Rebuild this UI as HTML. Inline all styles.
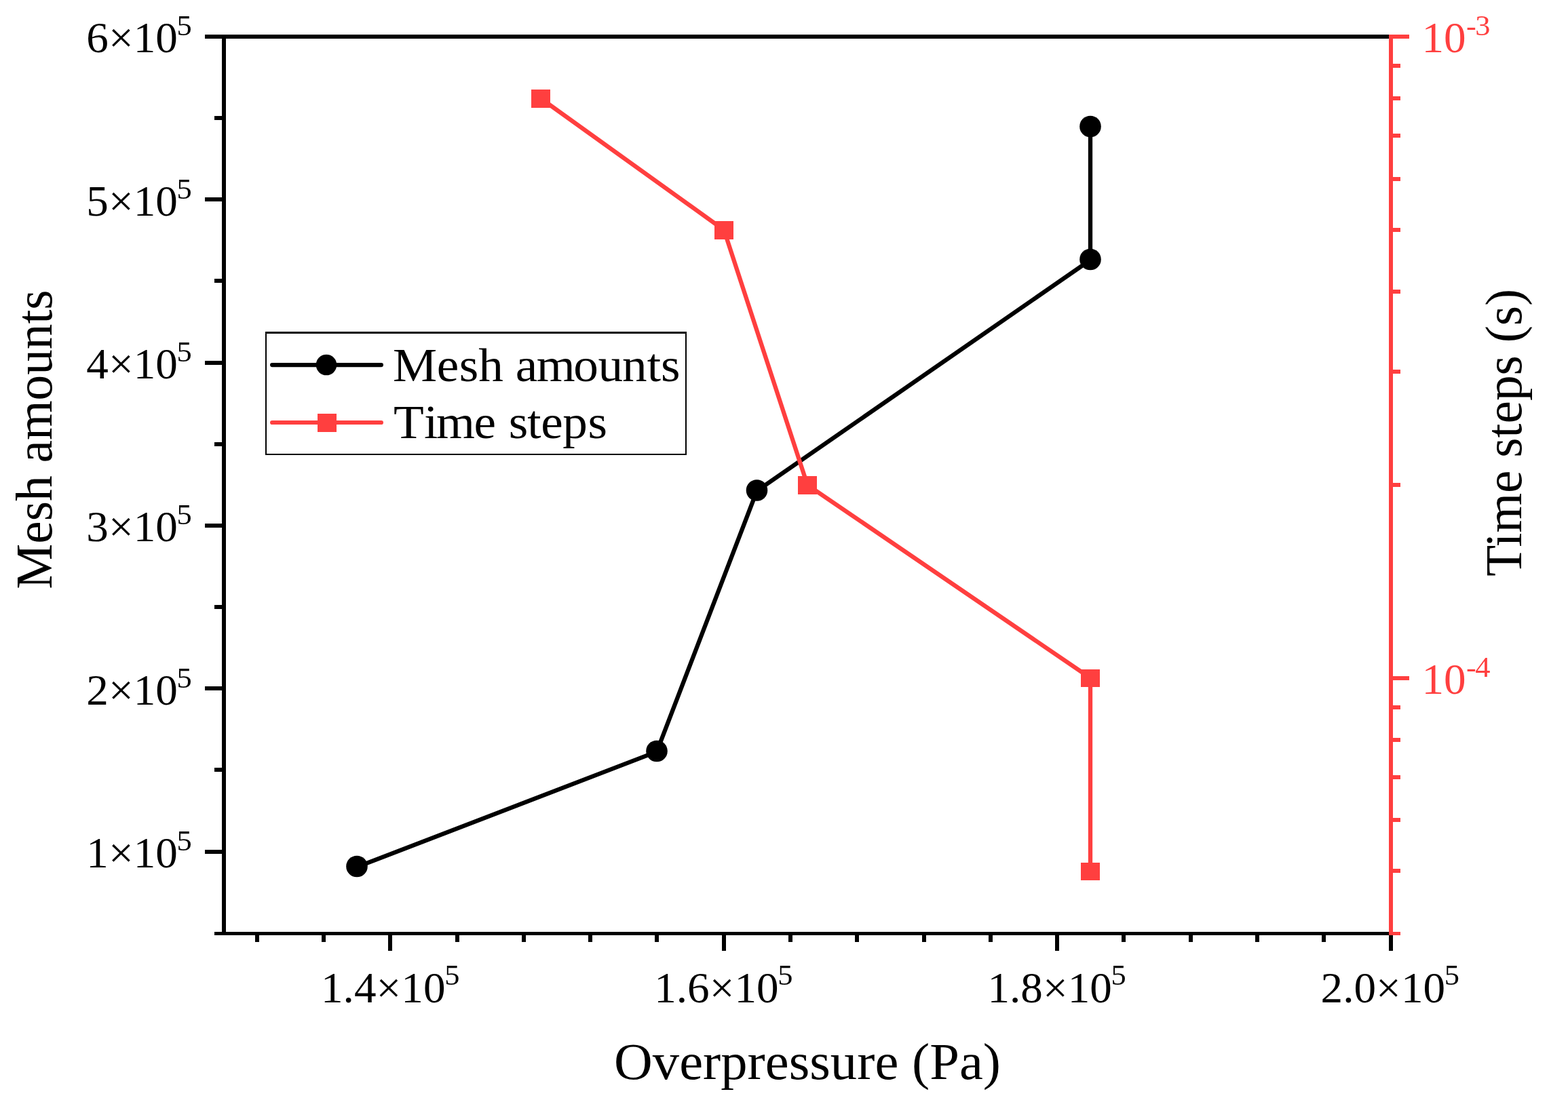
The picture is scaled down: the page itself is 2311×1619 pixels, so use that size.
<!DOCTYPE html>
<html lang="en">
<head>
<meta charset="utf-8">
<title>Mesh amounts and time steps vs overpressure</title>
<style>
html,body{margin:0;padding:0;background:#fff;}
body{width:2311px;height:1619px;overflow:hidden;font-family:"Liberation Serif",serif;}
svg{display:block;}
</style>
</head>
<body>
<svg width="2311" height="1619" viewBox="0 0 2311 1619" font-family="'Liberation Serif', serif">
<rect x="0" y="0" width="2311" height="1619" fill="#fff"/>
<g id="series-mesh">
<polyline points="526,1278.4 968,1108.4 1115.5,723.9 1607,383.4 1607,187.4" fill="none" stroke="#000" stroke-width="6.3" stroke-linejoin="round"/>
<rect x="1604" y="186" width="6" height="197" fill="#000" shape-rendering="crispEdges"/>
<circle cx="526" cy="1277.5" r="15.8" fill="#000"/>
<circle cx="968" cy="1107.5" r="15.8" fill="#000"/>
<circle cx="1115.5" cy="723" r="15.8" fill="#000"/>
<circle cx="1607" cy="382.5" r="15.8" fill="#000"/>
<circle cx="1607" cy="186.5" r="15.8" fill="#000"/>
</g>
<g id="series-time">
<polyline points="797,145.1 1067,339.1 1190,715.1 1607,999.6 1607,1284.6" fill="none" stroke="#FF3F3F" stroke-width="6.3" stroke-linejoin="round"/>
<g shape-rendering="crispEdges">
<rect x="1604" y="1000" width="6" height="285" fill="#FF3F3F"/>
<rect x="783" y="132" width="28" height="27" fill="#FF3F3F"/>
<rect x="1053" y="326" width="28" height="27" fill="#FF3F3F"/>
<rect x="1176" y="702" width="28" height="27" fill="#FF3F3F"/>
<rect x="1593" y="987" width="28" height="26" fill="#FF3F3F"/>
<rect x="1593" y="1272" width="28" height="26" fill="#FF3F3F"/>
</g></g>
<g id="axes" shape-rendering="crispEdges">
<rect x="302" y="51" width="1751" height="6" fill="#000"/>
<rect x="316" y="1374" width="1737" height="5" fill="#000"/>
<rect x="327" y="51" width="6" height="1328" fill="#000"/>
<rect x="302" y="1253" width="28" height="6" fill="#000"/>
<rect x="316" y="1132" width="14" height="6" fill="#000"/>
<rect x="302" y="1012" width="28" height="6" fill="#000"/>
<rect x="316" y="892" width="14" height="6" fill="#000"/>
<rect x="302" y="772" width="28" height="6" fill="#000"/>
<rect x="316" y="652" width="14" height="6" fill="#000"/>
<rect x="302" y="532" width="28" height="6" fill="#000"/>
<rect x="316" y="411" width="14" height="6" fill="#000"/>
<rect x="302" y="291" width="28" height="6" fill="#000"/>
<rect x="316" y="171" width="14" height="6" fill="#000"/>
<rect x="376" y="1376" width="6" height="13" fill="#000"/>
<rect x="474" y="1376" width="6" height="13" fill="#000"/>
<rect x="572" y="1376" width="6" height="13" fill="#000"/>
<rect x="671" y="1376" width="6" height="13" fill="#000"/>
<rect x="769" y="1376" width="6" height="13" fill="#000"/>
<rect x="867" y="1376" width="6" height="13" fill="#000"/>
<rect x="965" y="1376" width="6" height="13" fill="#000"/>
<rect x="1064" y="1376" width="6" height="13" fill="#000"/>
<rect x="1162" y="1376" width="6" height="13" fill="#000"/>
<rect x="1260" y="1376" width="6" height="13" fill="#000"/>
<rect x="1359" y="1376" width="6" height="13" fill="#000"/>
<rect x="1457" y="1376" width="6" height="13" fill="#000"/>
<rect x="1555" y="1376" width="6" height="13" fill="#000"/>
<rect x="1653" y="1376" width="6" height="13" fill="#000"/>
<rect x="1752" y="1376" width="6" height="13" fill="#000"/>
<rect x="1850" y="1376" width="6" height="13" fill="#000"/>
<rect x="1948" y="1376" width="6" height="13" fill="#000"/>
<rect x="2047" y="1376" width="6" height="13" fill="#000"/>
<rect x="572" y="1376" width="6" height="26" fill="#000"/>
<rect x="1064" y="1376" width="6" height="26" fill="#000"/>
<rect x="1555" y="1376" width="6" height="26" fill="#000"/>
<rect x="2047" y="1376" width="6" height="26" fill="#000"/>
<rect x="2047" y="51" width="6" height="1328" fill="#FF3F3F"/>
<rect x="2050" y="51" width="27" height="6" fill="#FF3F3F"/>
<rect x="2050" y="997" width="27" height="6" fill="#FF3F3F"/>
<rect x="2050" y="94" width="14" height="6" fill="#FF3F3F"/>
<rect x="2050" y="142" width="14" height="6" fill="#FF3F3F"/>
<rect x="2050" y="197" width="14" height="6" fill="#FF3F3F"/>
<rect x="2050" y="261" width="14" height="6" fill="#FF3F3F"/>
<rect x="2050" y="336" width="14" height="6" fill="#FF3F3F"/>
<rect x="2050" y="427" width="14" height="6" fill="#FF3F3F"/>
<rect x="2050" y="545" width="14" height="6" fill="#FF3F3F"/>
<rect x="2050" y="712" width="14" height="6" fill="#FF3F3F"/>
<rect x="2050" y="1040" width="14" height="6" fill="#FF3F3F"/>
<rect x="2050" y="1088" width="14" height="6" fill="#FF3F3F"/>
<rect x="2050" y="1143" width="14" height="6" fill="#FF3F3F"/>
<rect x="2050" y="1206" width="14" height="6" fill="#FF3F3F"/>
<rect x="2050" y="1281" width="14" height="6" fill="#FF3F3F"/>
<rect x="2050" y="1374" width="14" height="5" fill="#FF3F3F"/>
</g>
<g id="tick-labels">
<text transform="translate(282.8 1278.5) scale(1.035 1)" font-size="63.0" text-anchor="end" fill="#000">1×10<tspan font-size="43.0" dy="-25.0" dx="-1.3">5</tspan></text>
<text transform="translate(282.8 1038.5) scale(1.035 1)" font-size="63.0" text-anchor="end" fill="#000">2×10<tspan font-size="43.0" dy="-25.0" dx="-1.3">5</tspan></text>
<text transform="translate(282.8 797.5) scale(1.035 1)" font-size="63.0" text-anchor="end" fill="#000">3×10<tspan font-size="43.0" dy="-25.0" dx="-1.3">5</tspan></text>
<text transform="translate(282.8 557.5) scale(1.035 1)" font-size="63.0" text-anchor="end" fill="#000">4×10<tspan font-size="43.0" dy="-25.0" dx="-1.3">5</tspan></text>
<text transform="translate(282.8 317.5) scale(1.035 1)" font-size="63.0" text-anchor="end" fill="#000">5×10<tspan font-size="43.0" dy="-25.0" dx="-1.3">5</tspan></text>
<text transform="translate(282.8 76.5) scale(1.035 1)" font-size="63.0" text-anchor="end" fill="#000">6×10<tspan font-size="43.0" dy="-25.0" dx="-1.3">5</tspan></text>
<text transform="translate(575.2 1478) scale(1.035 1)" font-size="63.0" text-anchor="middle" fill="#000">1.4×10<tspan font-size="43.0" dy="-26.2" dx="-1.3">5</tspan></text>
<text transform="translate(1066.4 1478) scale(1.035 1)" font-size="63.0" text-anchor="middle" fill="#000">1.6×10<tspan font-size="43.0" dy="-26.2" dx="-1.3">5</tspan></text>
<text transform="translate(1557.6 1478) scale(1.035 1)" font-size="63.0" text-anchor="middle" fill="#000">1.8×10<tspan font-size="43.0" dy="-26.2" dx="-1.3">5</tspan></text>
<text transform="translate(2048.8 1478) scale(1.035 1)" font-size="63.0" text-anchor="middle" fill="#000">2.0×10<tspan font-size="43.0" dy="-26.2" dx="-1.3">5</tspan></text>
<text transform="translate(2095.5 76.5) scale(1.035 1)" font-size="63.0" text-anchor="start" fill="#FF3F3F">10<tspan font-size="43.0" dy="-25.0" dx="0.4 -1.7">-3</tspan></text>
<text transform="translate(2095.5 1022.5) scale(1.035 1)" font-size="63.0" text-anchor="start" fill="#FF3F3F">10<tspan font-size="43.0" dy="-25.0" dx="0.4 -1.7">-4</tspan></text>
</g>
<text transform="translate(1190 1591) scale(1.035 1)" font-size="76.0" text-anchor="middle">Overpressure (Pa)</text>
<text transform="translate(76.4 648) rotate(-90)" font-size="75.3" text-anchor="middle">Mesh amounts</text>
<text transform="translate(2241.6 637.8) rotate(-90)" font-size="75.3" text-anchor="middle">Time steps (s)</text>
<g id="legend">
<g shape-rendering="crispEdges">
<rect x="391" y="489" width="621" height="182" fill="#000"/>
<rect x="393" y="492" width="617" height="177" fill="#fff"/>
</g>
<line x1="401.1" y1="538.1" x2="561.9" y2="538.1" stroke="#000" stroke-width="6.2" stroke-linecap="round"/>
<circle cx="481.0" cy="538.1" r="15.25" fill="#000"/>
<line x1="401.1" y1="623.0" x2="561.9" y2="623.0" stroke="#FF3F3F" stroke-width="6.2" stroke-linecap="round"/>
<g shape-rendering="crispEdges">
<rect x="468" y="610" width="28" height="27" fill="#FF3F3F"/>
</g>
<text transform="translate(579 561.5) scale(1.035 1)" font-size="70.8" dx="0.00 -0.48 0.48 0.00 0.00 -0.39 -1.55 -2.22 -0.58 -0.97 0.00 0.00">Mesh amounts</text>
<text transform="translate(579 646) scale(1.035 1)" font-size="70.8" dx="0.97 2.80 -2.32 -1.45 0.00 0.48 -1.16 -0.29 -0.48 0.48">Time steps</text>
</g>
</svg>
</body>
</html>
